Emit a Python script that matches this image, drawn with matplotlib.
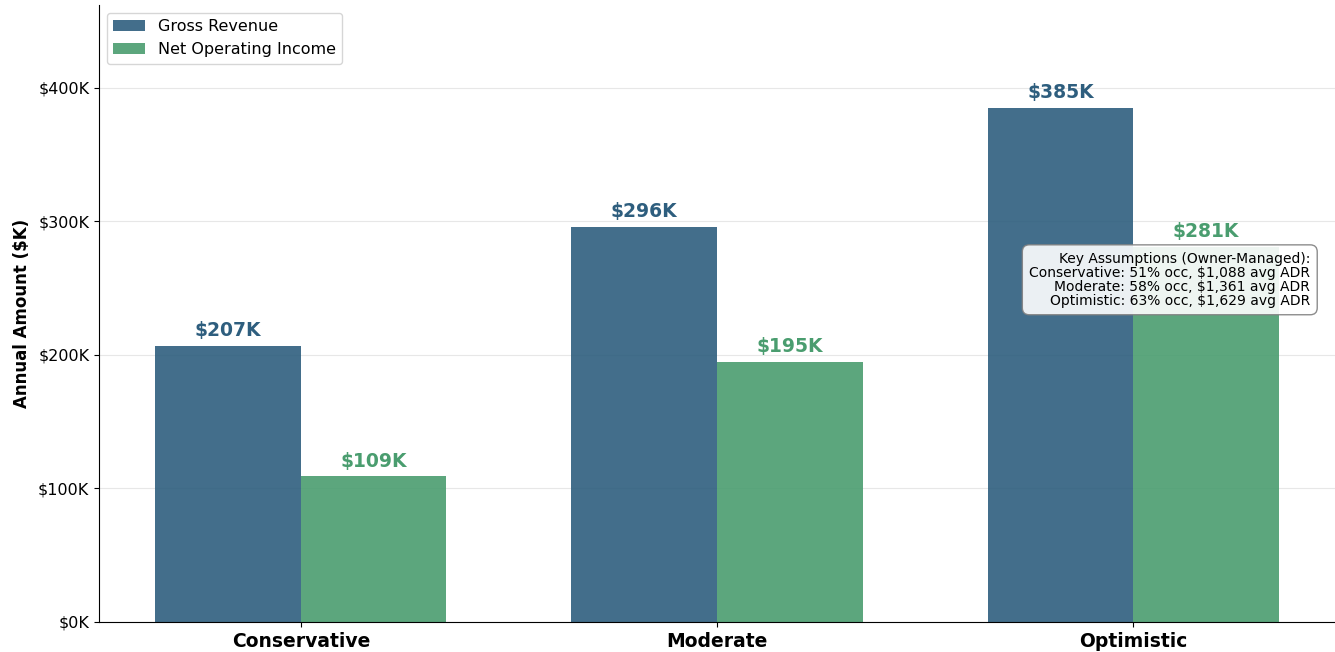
import numpy as np
import matplotlib
matplotlib.use("Agg")
import matplotlib.pyplot as plt
from matplotlib.ticker import FuncFormatter

# Scenario data (annual, $K)
scenarios = ["Conservative", "Moderate", "Optimistic"]
gross_revenue = [207, 296, 385]
net_operating_income = [109, 195, 281]
assumptions = [
    "Key Assumptions (Owner-Managed):",
    "Conservative: 51% occ, $1,088 avg ADR",
    "Moderate: 58% occ, $1,361 avg ADR",
    "Optimistic: 63% occ, $1,629 avg ADR",
]

GROSS_COLOR = "#2E5E7E"
NOI_COLOR = "#4A9D6F"

fig = plt.figure(figsize=(13.35, 6.52), dpi=100)
ax = fig.add_axes([99 / 1335, 30 / 652, 1236 / 1335, 617 / 652])

x = np.arange(len(scenarios))
width = 0.35

bars1 = ax.bar(x - width / 2, gross_revenue, width, label="Gross Revenue",
               color=GROSS_COLOR, alpha=0.9)
bars2 = ax.bar(x + width / 2, net_operating_income, width, label="Net Operating Income",
               color=NOI_COLOR, alpha=0.9)

# value labels above the bars
for bars, color in [(bars1, GROSS_COLOR), (bars2, NOI_COLOR)]:
    for b in bars:
        h = b.get_height()
        ax.annotate(f"${h:.0f}K", xy=(b.get_x() + b.get_width() / 2, h),
                    xytext=(0, 4), textcoords="offset points",
                    ha="center", va="bottom", fontsize=13.5, fontweight="bold",
                    color=color)

ax.set_ylim(0, max(gross_revenue) * 1.2)
ax.set_ylabel("Annual Amount ($K)", fontsize=12, fontweight="bold", labelpad=5)
ax.set_xticks(x)
ax.set_xticklabels(scenarios, fontsize=13.5, fontweight="bold")
ax.yaxis.set_major_formatter(FuncFormatter(lambda v, p: f"${v:.0f}K"))
ax.tick_params(axis="y", labelsize=11.5)
ax.yaxis.set_major_locator(plt.MultipleLocator(100))

ax.grid(axis="y", alpha=0.3)
ax.set_axisbelow(True)
ax.spines["top"].set_visible(False)
ax.spines["right"].set_visible(False)

ax.legend(loc="upper left", fontsize=11.5)

ax.text(0.98, 0.6, "\n".join(assumptions), transform=ax.transAxes,
        ha="right", va="top", fontsize=10, linespacing=1.0,
        bbox=dict(boxstyle="round,pad=0.5", facecolor="white", alpha=0.9,
                  edgecolor="gray"))

fig.savefig("out.png", dpi=100)
